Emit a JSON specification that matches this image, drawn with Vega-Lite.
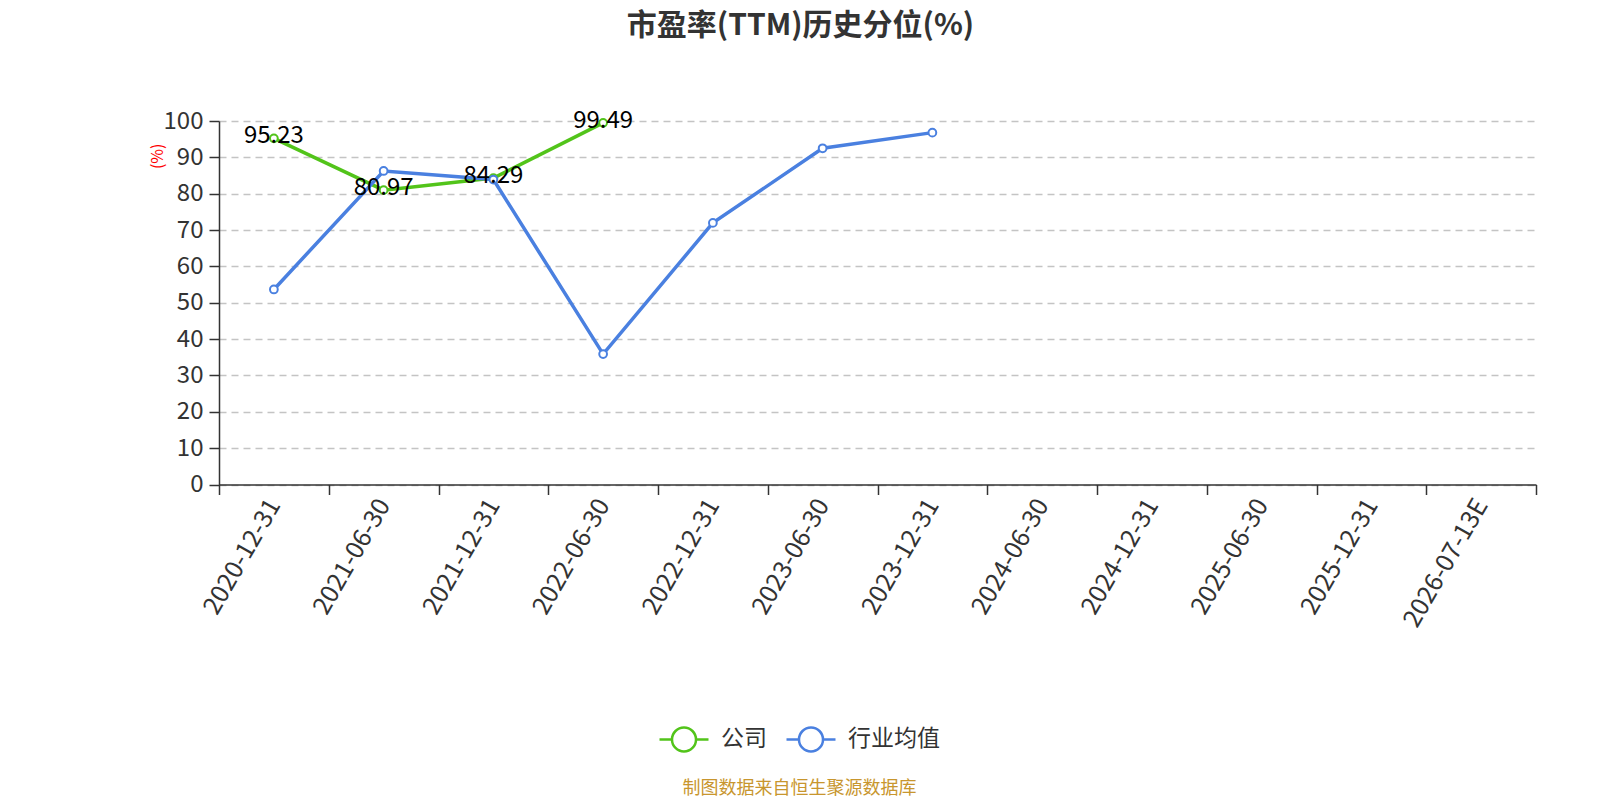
{
  "$schema": "https://vega.github.io/schema/vega-lite/v6.json",
  "width": 1317,
  "height": 363.5,
  "autosize": {"type": "none"},
  "padding": {"left": 219, "top": 121, "right": 64, "bottom": 315.5},
  "background": "white",
  "config": {"font": "Noto Sans CJK SC", "view": {"stroke": null}},
  "title": {
    "text": "市盈率(TTM)历史分位(%)",
    "fontSize": 30,
    "fontWeight": "bold",
    "color": "#333333",
    "anchor": "middle",
    "dx": -77,
    "offset": 68
  },
  "data": {
    "values": [
      {"date": "2020-12-31", "series": "公司", "value": 95.23},
      {"date": "2021-06-30", "series": "公司", "value": 80.97},
      {"date": "2021-12-31", "series": "公司", "value": 84.29},
      {"date": "2022-06-30", "series": "公司", "value": 99.49},
      {"date": "2020-12-31", "series": "行业均值", "value": 53.66},
      {"date": "2021-06-30", "series": "行业均值", "value": 86.26},
      {"date": "2021-12-31", "series": "行业均值", "value": 83.9},
      {"date": "2022-06-30", "series": "行业均值", "value": 35.87},
      {"date": "2022-12-31", "series": "行业均值", "value": 71.96},
      {"date": "2023-06-30", "series": "行业均值", "value": 92.5},
      {"date": "2023-12-31", "series": "行业均值", "value": 96.8}
    ]
  },
  "encoding": {
    "x": {
      "field": "date",
      "type": "ordinal",
      "bandPosition": 0.5,
      "scale": {
        "type": "band",
        "domain": ["2020-12-31", "2021-06-30", "2021-12-31", "2022-06-30", "2022-12-31", "2023-06-30", "2023-12-31", "2024-06-30", "2024-12-31", "2025-06-30", "2025-12-31", "2026-07-13E"],
        "paddingInner": 0,
        "paddingOuter": 0
      },
      "axis": {
        "title": "制图数据来自恒生聚源数据库",
        "titleColor": "#c8962e",
        "titleFontSize": 18,
        "titleFontWeight": "normal",
        "titleX": 580,
        "titleY": 304,
        "titleAlign": "center",
        "titleBaseline": "middle",
        "tickBand": "extent",
        "tickSize": 10,
        "tickColor": "#333333",
        "tickWidth": 1.5,
        "domainColor": "#333333",
        "domainWidth": 1.5,
        "labelAngle": -60,
        "labelAlign": "right",
        "labelBaseline": "middle",
        "labelFontSize": 25,
        "labelColor": "#333333",
        "labelPadding": 6,
        "grid": false
      }
    },
    "y": {
      "field": "value",
      "type": "quantitative",
      "scale": {"domain": [0, 100], "nice": false},
      "axis": {
        "values": [0, 10, 20, 30, 40, 50, 60, 70, 80, 90, 100],
        "title": "(%)",
        "titleColor": "#ff0000",
        "titleFontSize": 16,
        "titleFontWeight": "normal",
        "titleAngle": -90,
        "titleX": -61.5,
        "titleY": 34.8,
        "titleAlign": "center",
        "titleBaseline": "middle",
        "tickSize": 10,
        "tickColor": "#333333",
        "tickWidth": 1.5,
        "domainColor": "#333333",
        "domainWidth": 1.5,
        "labelFontSize": 24,
        "labelColor": "#333333",
        "labelPadding": 6,
        "grid": true,
        "gridColor": "#c4c4c4",
        "gridDash": [7, 5],
        "gridWidth": 1.5
      }
    },
    "color": {
      "field": "series",
      "type": "nominal",
      "scale": {"domain": ["公司", "行业均值"], "range": ["#52c41a", "#4a80e0"]},
      "legend": {
        "orient": "none",
        "legendX": 439,
        "legendY": 592,
        "direction": "horizontal",
        "title": null,
        "symbolType": "M-1,0L-0.49,0M0.49,0L1,0M0.49,0A0.49,0.49,0,1,1,-0.49,0A0.49,0.49,0,1,1,0.49,0",
        "symbolSize": 2401,
        "symbolFillColor": "white",
        "symbolStrokeWidth": 2.5,
        "labelFontSize": 23,
        "labelColor": "#333333",
        "labelOffset": 11,
        "columnPadding": 14
      }
    }
  },
  "layer": [
    {
      "mark": {
        "type": "line",
        "strokeWidth": 3.5,
        "point": {"filled": false, "fill": "white", "size": 60, "strokeWidth": 2}
      }
    },
    {
      "transform": [{"filter": "datum.series === '公司'"}],
      "mark": {"type": "text", "fontSize": 24, "color": "#000000", "baseline": "middle", "align": "center", "dy": -2},
      "encoding": {
        "text": {"field": "value", "type": "quantitative", "format": ".2f"},
        "color": {"value": "#000000"}
      }
    }
  ]
}
